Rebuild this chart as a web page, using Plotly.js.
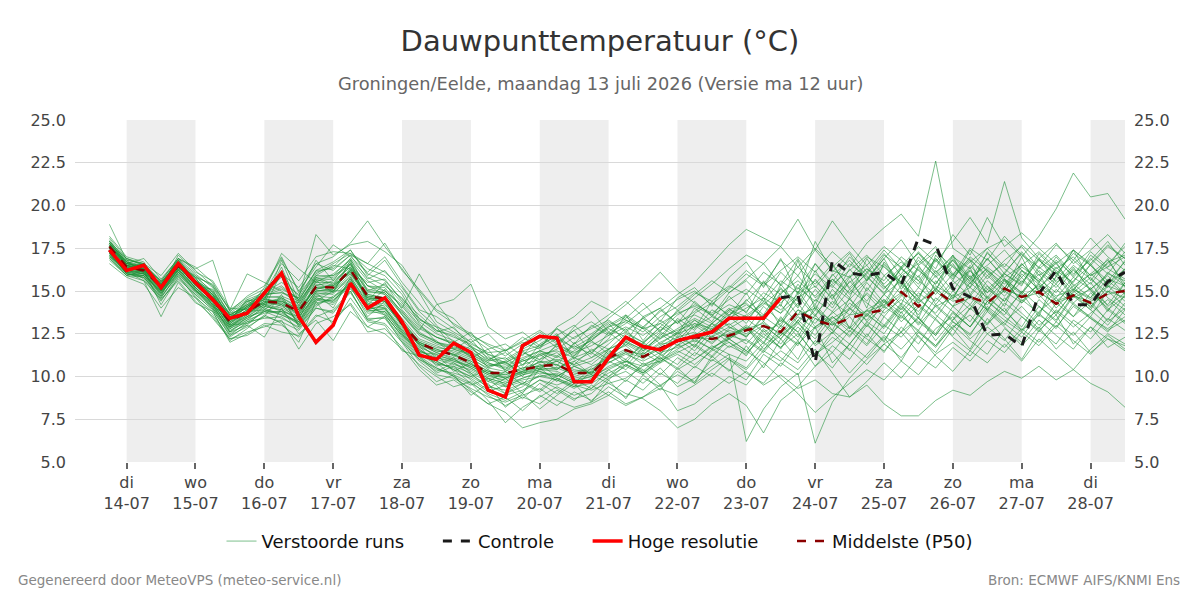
<!DOCTYPE html>
<html>
<head>
<meta charset="utf-8">
<script src="https://cdn.plot.ly/plotly-3.0.1.min.js"></script>
<style>html,body{margin:0;padding:0;background:#fff}#chart{width:1200px;height:600px}</style>
</head>
<body>
<div id="chart"></div>
<script>
// Time axis: 6-hourly steps starting 13-07-2026 18:00 UTC
const startUTC = Date.UTC(2026, 6, 13, 18);
const stepHours = 6;

// Tick days (midnights) and labels
const tickDates = ['2026-07-14','2026-07-15','2026-07-16','2026-07-17','2026-07-18','2026-07-19','2026-07-20','2026-07-21','2026-07-22','2026-07-23','2026-07-24','2026-07-25','2026-07-26','2026-07-27','2026-07-28'];
const tickDays = ['di','wo','do','vr','za','zo','ma','di','wo','do','vr','za','zo','ma','di'];
const tickDM = ['14-07','15-07','16-07','17-07','18-07','19-07','20-07','21-07','22-07','23-07','24-07','25-07','26-07','27-07','28-07'];
const shadedDays = ['2026-07-14','2026-07-16','2026-07-18','2026-07-20','2026-07-22','2026-07-24','2026-07-26','2026-07-28'];

// Hoge resolutie (13-07 18:00 .. 23-07 12:00)
const hres = [17.4,16.2,16.5,15.2,16.6,15.5,14.5,13.4,13.7,14.9,16.05,13.5,12.0,13.0,15.45,14.0,14.6,13.2,11.25,11.0,11.95,11.4,9.2,8.8,11.8,12.35,12.25,9.7,9.7,11.1,12.3,11.75,11.55,12.1,12.35,12.6,13.4,13.4,13.4,14.6];

// Controle (visible from 23-07 12:00, coincides with HRES before)
const controlStartIndex = 39;
const control = [14.6,14.75,10.8,16.8,16.05,15.9,16.1,15.35,18.1,17.7,15.15,14.65,12.4,12.5,11.75,14.85,16.2,14.2,14.2,15.55,16.1];

// Middelste (P50)
const p50 = [17.6,16.4,16.2,15.25,16.5,15.45,14.5,13.2,13.8,14.4,14.3,13.8,15.25,15.2,16.25,14.7,14.55,13.1,11.95,11.55,11.25,10.8,10.2,10.2,10.4,10.6,10.7,10.2,10.2,11.1,11.55,11.15,11.65,12.1,12.3,12.2,12.4,12.7,12.95,12.6,13.8,13.3,13.0,13.4,13.7,13.9,14.95,14.1,15.05,14.3,14.65,14.3,15.15,14.65,14.95,14.25,14.75,14.3,14.85,15.0];

// Verstoorde runs (estimated members)
const m01 = [18.9,16.8,16.6,15.6,16.9,16.0,15.2,13.6,14.2,14.9,15.3,14.5,16.0,16.6,17.2,16.3,15.9, 14.8,13.1,12.0,11.8,11.2,10.6,10.9,11.5,11.8,12.4,11.6,12.1,13.0,13.6,12.9,13.8,14.5,15.0,14.2,15.1, 16.0,15.3,16.2,17.0,16.1,17.3,16.4,17.8,18.7,19.5,18.2,22.6,17.5,16.8,15.9,16.6,15.8,16.9,15.5,16.2,15.4,16.7,17.1];
const m02 = [17.2,16.0,15.9,14.6,16.1,15.0,14.0,12.6,13.3,13.7,13.8,13.0,14.2,14.6,15.4,13.9,13.6, 12.4,11.2,10.5,10.1,9.6,9.0,8.6,9.1,9.8,9.3,8.7,9.0,9.9,10.3,9.6,10.5,9.4,9.9,10.6,11.3, 6.2,8.1,9.4,10.2,6.1,8.5,9.9,11.0,11.9,12.6,11.4,12.8,13.5,12.2,13.1,14.0,12.7,13.6,12.9,14.1,13.4,12.8,13.5];
const m03 = [17.9,16.9,16.5,15.4,16.8,15.9,15.3,13.9,14.6,15.1,16.0,15.2,16.6,17.0,17.8,19.1,17.6, 16.3,14.9,13.2,12.6,12.0,11.3,11.0,11.6,12.1,12.8,12.2,12.9,13.6,14.4,13.5,14.0,13.1,13.8,14.6,15.3, 14.8,16.1,15.4,16.9,15.2,16.4,17.3,16.1,17.4,16.3,17.2,16.0,17.1,15.8,16.5,17.4,16.2,15.6,16.8,15.9,17.3,16.4,17.8];
const m04 = [17.0,16.1,15.6,13.5,15.5,14.3,13.8,12.0,12.5,13.1,13.0,12.3,13.5,13.9,15.0,13.3,13.1, 12.0,11.0,10.3,10.8,10.1,9.5,9.0,9.4,10.1,9.8,9.3,9.9,10.6,11.0,10.2,10.9,11.4,11.9,11.2,12.3, 12.9,11.6,12.4,13.2,11.8,12.6,13.5,12.3,13.9,14.8,13.6,15.2,14.1,15.5,14.6,13.8,14.9,16.0,14.4,15.3,14.0,15.6,14.8];
const m05 = [17.5,16.6,16.4,15.3,16.6,15.7,14.9,13.5,14.0,14.7,15.1,14.6,18.3,17.1,17.7,17.9,17.3, 16.5,15.0,13.8,13.1,12.5,11.8,11.2,11.9,12.6,11.9,11.3,12.2,12.8,12.3,11.9,12.9,13.8,14.6,15.4,16.3, 17.1,16.6,17.6,19.2,17.4,16.2,15.8,17.0,16.4,15.5,16.8,15.9,14.6,16.2,15.1,16.0,17.3,16.1,15.2,16.4,15.0,14.2,15.5];
const m06 = [17.3,16.3,16.0,14.9,16.2,15.1,14.2,12.9,13.4,14.0,13.6,13.2,14.6,14.3,15.6,14.0,13.9, 12.6,11.4,10.8,10.0,9.2,8.4,7.9,7.0,7.3,7.5,8.1,8.4,8.9,8.3,8.8,9.5,10.1,9.6,10.4,11.1, 10.5,11.8,12.6,11.9,12.9,13.5,12.8,13.9,14.5,13.2,14.2,13.4,14.8,13.9,15.1,14.4,15.6,14.8,13.7,14.9,15.8,14.6,13.9];
const m07 = [17.8,16.7,16.2,15.5,16.7,15.6,14.7,13.4,14.3,15.0,17.2,16.3,15.5,16.0,16.8,15.6,15.0, 14.2,13.0,12.3,11.9,11.5,10.8,10.4,10.9,11.2,11.6,12.3,12.8,13.3,12.6,13.4,12.7,13.6,14.2,13.7,14.5, 15.1,14.4,15.6,14.9,16.0,15.2,16.6,15.8,14.9,16.3,15.4,16.9,15.8,16.7,17.5,16.4,17.7,16.8,16.0,17.2,16.5,17.6,16.9];
const m08 = [17.7,16.5,16.3,15.1,16.4,15.4,14.4,13.1,13.7,14.3,14.6,14.0,15.3,15.6,16.4,15.1,14.9, 13.8,12.7,14.2,14.5,15.4,12.9,12.2,12.6,11.8,12.4,13.0,12.1,12.9,13.5,12.8,11.9,12.6,13.3,12.5,13.1, 12.3,13.6,14.2,13.1,14.5,13.8,15.1,14.3,13.5,14.7,15.9,14.2,15.4,16.2,14.9,15.7,14.3,15.2,16.1,14.7,15.5,14.1,14.9];
const m09 = [17.1,16.2,16.1,14.8,16.3,15.2,14.3,12.8,13.3,14.1,13.9,13.4,14.9,14.8,15.9,14.2,14.3, 12.9,11.6,10.9,10.4,9.6,8.6,7.3,8.2,8.8,9.4,8.9,9.3,10.0,10.6,10.1,10.8,11.3,10.7,11.5,12.0, 11.4,12.3,11.7,12.5,11.3,12.0,12.9,12.2,11.5,12.6,13.4,12.4,13.7,12.9,14.1,13.3,12.6,13.8,14.6,13.5,14.4,13.2,14.0];
const m10 = [17.4,16.4,16.1,15.2,16.5,15.5,14.6,13.3,13.9,14.5,14.4,13.9,15.1,15.4,16.0,14.8,14.6, 13.4,12.2,11.8,11.4,11.0,10.5,10.3,10.7,11.0,11.4,10.6,10.9,11.6,12.1,11.5,12.2,12.8,13.4,12.9,13.6, 14.2,13.5,14.9,15.6,14.7,15.9,16.8,15.6,17.1,16.4,17.6,16.7,17.9,19.3,17.8,21.4,18.1,16.9,17.8,16.6,17.4,18.3,17.2];
const m11 = [17.6,16.3,16.2,15.4,16.6,15.3,14.5,13.0,13.6,14.4,14.1,13.6,15.0,15.1,16.2,14.5,14.4, 13.0,11.8,11.2,11.0,10.5,10.0,9.8,10.2,10.5,10.9,10.3,10.4,11.2,11.9,11.3,12.0,12.5,12.9,13.5,13.0, 13.6,14.3,13.7,14.6,15.3,14.2,15.8,16.5,15.2,16.0,17.3,16.1,17.0,16.3,17.5,18.0,17.0,18.2,19.8,21.9,20.5,20.7,19.2];
const m12 = [17.0,15.9,15.8,14.7,15.9,14.8,13.9,12.4,12.9,13.5,13.2,12.7,14.0,13.8,14.9,13.4,13.4, 12.1,10.9,10.1,9.9,9.3,8.8,8.5,8.9,9.3,8.6,8.2,8.5,9.1,8.4,8.8,9.3,8.9,9.5,10.2,9.6, 10.3,9.5,10.1,9.3,9.8,9.0,8.8,9.5,8.4,7.7,7.7,8.6,9.2,8.9,9.7,10.3,9.9,10.6,9.8,10.4,9.6,9.1,8.2];
const m13 = [17.5,16.5,16.3,15.0,16.4,15.6,14.8,13.3,14.1,14.6,14.2,13.7,15.4,15.3,16.1,14.6,14.4, 13.2,12.1,11.7,11.5,11.1,10.4,9.9,10.3,10.9,10.7,10.0,10.3,11.4,11.8,11.0,11.8,12.3,12.6,11.9,12.8, 13.4,12.6,13.1,14.3,12.9,13.7,14.5,13.6,14.8,15.6,14.3,15.3,14.7,15.9,14.5,15.6,14.4,15.4,14.0,15.1,14.6,15.7,15.3];
const m14 = [17.2,16.1,15.9,15.0,16.2,15.0,14.1,12.7,13.2,13.8,13.4,12.9,14.3,14.5,15.2,13.7,13.8, 12.5,11.3,10.7,10.6,10.2,9.7,9.4,9.9,10.2,10.1,9.6,9.8,10.4,10.9,10.4,9.5,8.0,8.4,9.2,10.0, 9.5,10.7,11.5,10.8,12.1,11.4,12.7,11.8,13.0,12.3,13.5,12.1,13.3,14.2,13.0,14.3,13.5,12.6,13.9,13.1,12.2,13.4,12.7];
const m15 = [18.1,16.9,16.5,15.6,16.9,16.3,16.8,13.8,14.5,14.9,15.5,14.8,16.1,16.4,17.4,16.0,15.6, 14.5,13.6,12.7,12.3,11.9,11.4,11.5,12.1,12.7,12.0,12.7,13.2,12.5,13.1,13.9,14.6,13.9,14.8,15.6,14.9, 15.7,16.6,15.3,16.4,17.5,16.5,15.2,16.3,15.6,17.0,16.2,15.4,16.8,15.7,14.9,16.1,17.2,15.9,16.6,15.3,16.0,15.2,16.3];
const m16 = [17.6,16.6,16.3,15.3,16.5,15.8,15.4,13.9,16.0,15.5,15.0,14.2,15.6,15.7,16.6,15.3,15.2, 14.0,16.0,14.3,13.0,12.4,11.9,11.5,12.0,11.6,12.9,13.5,14.4,13.9,13.3,12.8,13.1,12.4,13.7,14.3,13.6, 14.4,15.5,14.8,15.9,14.6,15.4,16.2,17.1,15.9,16.7,15.8,17.3,16.4,15.6,16.9,15.8,16.5,17.3,16.3,17.0,15.9,16.6,17.6];
const m17 = [17.3,16.2,16.0,14.9,16.3,15.2,14.2,12.6,13.0,13.9,13.6,13.1,14.5,14.2,15.5,14.1,13.7, 12.3,11.1,10.4,10.2,9.9,9.2,8.9,9.2,9.8,9.5,9.9,10.1,9.6,9.0,8.7,8.0,7.0,7.5,8.4,9.0, 8.3,6.7,8.6,9.4,10.6,11.4,10.2,11.3,12.4,11.6,12.7,11.8,12.9,13.6,12.5,13.2,14.1,13.0,13.8,12.9,13.7,14.5,13.6];
const m18 = [17.8,16.6,16.4,15.2,16.6,15.5,14.6,13.5,14.0,14.6,14.7,14.3,15.8,15.9,16.5,15.3,14.8, 13.6,12.4,11.9,11.6,11.3,10.7,10.6,11.0,11.5,11.2,11.9,12.5,13.2,12.7,13.4,14.0,14.8,15.5,16.6,17.7, 18.6,18.1,17.6,16.4,15.4,16.6,15.1,16.0,17.2,15.9,16.6,17.6,16.0,16.9,15.7,16.8,17.6,16.3,17.1,16.0,16.8,17.9,16.5];
const m19 = [17.4,16.3,16.2,15.1,16.4,15.4,14.5,13.0,13.5,14.2,14.0,13.5,14.8,15.0,15.8,14.4,14.1, 12.8,11.5,11.0,10.7,10.4,9.9,9.6,9.9,10.3,9.9,9.5,9.2,9.6,9.9,10.6,11.2,11.8,12.4,13.1,12.6, 11.9,13.0,12.2,13.3,14.2,13.1,12.4,13.6,12.9,14.2,13.0,14.1,13.2,12.5,13.8,12.9,11.8,12.9,11.6,12.6,11.4,12.2,11.8];
const m20 = [17.9,16.8,16.6,15.5,16.7,15.8,15.0,13.7,14.4,14.8,14.9,14.6,16.2,16.3,17.1,16.6,16.1, 15.2,13.8,12.9,12.5,11.8,11.1,10.8,11.3,11.7,12.2,11.7,12.3,12.9,13.2,12.6,13.5,14.1,14.9,14.4,15.2, 16.2,15.4,16.8,15.9,17.4,19.1,17.7,16.5,17.6,16.8,15.6,16.9,15.7,17.0,16.2,15.4,16.6,15.5,16.7,15.1,16.0,16.8,15.4];
const m21 = [17.6,16.4,16.3,15.2,16.5,15.3,14.4,13.1,13.9,14.4,14.5,13.9,15.2,15.0,16.3,14.7,14.6, 13.3,12.0,11.6,11.2,10.9,10.3,10.1,10.5,10.6,10.9,10.4,10.2,11.0,11.5,11.3,11.9,12.0,12.5,12.3,12.9, 12.5,13.2,12.4,13.6,14.0,13.2,13.9,14.8,13.7,14.5,13.8,15.0,14.1,14.6,13.9,15.1,14.7,15.3,14.4,14.8,14.1,15.0,14.6];
const m22 = [17.5,16.2,16.0,15.1,16.3,15.2,14.3,12.9,13.6,14.2,13.8,13.5,14.7,14.9,15.7,14.3,14.0, 12.7,11.7,11.3,10.9,10.6,10.1,9.7,10.1,10.4,10.3,9.8,10.0,10.8,11.3,10.9,11.4,11.7,12.1,11.6,12.4, 12.1,11.4,12.6,11.8,13.4,12.7,11.9,13.2,14.1,13.4,14.6,13.6,12.8,14.0,15.3,14.1,16.2,15.0,14.2,15.6,16.5,15.4,16.3];
const m23 = [17.7,16.5,16.1,15.0,16.6,15.4,14.6,13.2,13.8,14.3,14.4,14.0,15.1,15.3,16.1,14.6,14.5, 13.1,12.0,11.5,11.3,10.7,10.2,10.0,10.3,10.7,10.5,10.9,11.4,10.8,11.4,10.7,11.1,10.4,11.0,11.8,11.3, 10.9,12.0,11.1,10.4,11.6,10.2,8.8,9.7,10.8,9.9,11.2,10.5,11.7,10.9,12.1,11.4,12.6,11.8,13.0,12.1,11.3,12.4,11.6];
const m24 = [17.3,16.4,16.2,15.3,16.5,15.4,14.5,13.3,13.9,14.5,14.4,13.8,15.2,15.2,16.3,14.8,14.6, 13.2,12.0,11.6,11.3,10.9,10.3,10.2,10.5,10.8,11.0,10.7,11.1,11.6,12.0,11.6,12.3,12.7,13.1,12.8,13.4, 14.0,14.6,13.9,14.8,15.6,14.6,15.5,16.3,15.4,16.4,17.2,16.3,18.3,17.1,19.3,17.6,18.4,17.5,16.6,17.4,16.6,17.7,16.9];
const m25 = [17.1,16.0,15.9,14.9,16.1,15.1,14.1,12.8,13.4,13.9,13.7,13.2,14.6,14.4,15.5,13.9,13.8, 12.5,11.3,10.8,10.5,10.0,9.4,9.2,9.6,10.0,9.8,9.4,9.6,10.2,10.7,10.2,11.0,11.6,12.2,11.6,12.3, 13.0,12.3,13.3,12.6,11.2,12.3,11.6,10.7,11.9,11.1,12.4,11.2,10.3,11.5,10.8,11.9,10.9,12.2,11.3,10.4,11.6,12.5,11.9];
const m26 = [17.7,16.6,16.4,15.4,16.8,15.7,14.8,13.6,14.2,14.8,14.9,14.4,15.7,15.8,16.7,15.3,15.0, 14.1,12.9,12.3,12.0,11.6,11.0,10.7,11.1,11.5,11.9,11.4,11.8,12.4,12.9,12.4,13.1,13.7,14.1,13.6,14.2, 13.8,14.9,14.3,15.2,14.4,15.7,14.9,16.1,15.1,16.3,15.6,14.8,16.0,15.2,16.4,15.6,14.8,16.2,15.4,16.5,15.7,14.9,16.1];
const m27 = [17.5,16.3,16.1,15.2,16.4,15.5,14.7,13.2,13.7,14.3,14.2,13.7,15.0,15.1,16.2,14.6,14.5, 13.0,11.9,11.4,11.0,10.6,10.1,9.9,10.3,10.5,10.4,11.2,12.3,13.4,14.2,15.1,16.1,15.0,14.3,13.6,12.9, 12.3,13.5,12.8,13.9,13.1,14.4,13.6,14.9,14.0,15.3,14.5,13.7,15.0,14.2,15.6,14.7,15.8,14.6,15.4,14.3,15.2,13.9,14.7];
const m28 = [17.2,16.1,16.0,15.0,16.2,15.2,14.3,12.9,13.5,14.1,13.9,13.3,14.7,14.6,15.7,14.1,14.0, 12.7,11.5,11.1,10.8,10.3,9.8,9.5,9.8,10.0,10.2,9.7,10.0,10.5,10.9,10.6,10.9,11.5,11.0,11.7,12.2, 11.5,10.8,9.9,9.0,7.9,8.8,9.6,10.4,9.8,10.9,10.1,11.3,12.0,11.2,12.5,11.7,12.8,12.0,13.2,12.4,13.5,12.7,13.3];
const m29 = [17.8,16.7,16.4,15.3,16.6,15.6,14.8,13.4,14.1,14.7,14.6,14.1,15.5,15.5,16.4,15.0,14.8, 13.7,12.5,12.0,11.7,11.3,10.8,10.5,10.9,11.3,11.5,11.1,11.5,12.1,12.6,12.0,12.7,13.2,13.6,13.1,13.9, 13.5,14.2,15.1,14.4,16.6,15.3,14.5,15.6,16.6,15.4,14.7,15.9,16.8,15.5,16.3,15.2,16.4,15.7,14.9,16.3,15.1,15.9,14.8];
const m30 = [17.6,16.5,16.2,15.2,16.5,15.4,14.5,13.1,13.8,14.4,14.3,13.8,15.3,15.2,16.2,14.7,14.5, 13.1,11.9,11.5,11.3,10.8,10.2,10.1,10.4,10.6,10.7,10.2,10.2,11.1,11.6,11.2,11.7,12.1,12.3,12.2,12.5, 12.8,13.1,12.5,13.9,13.4,13.0,13.6,13.8,14.2,14.9,14.3,15.1,14.4,14.7,14.2,15.2,14.6,14.9,14.3,14.7,14.4,14.8,15.1];
const m31 = [18.2,17.0,16.7,15.1,17.1,16.1,15.6,14.0,13.9,15.2,16.9,15.0,16.4,17.7,17.0,16.1,17.0, 15.5,14.3,13.0,12.0,12.6,11.2,10.4,11.5,10.8,11.9,12.7,11.4,12.2,13.6,12.1,13.3,12.5,14.0,13.2,14.7, 13.7,15.6,14.1,16.8,13.9,15.7,14.6,16.9,15.3,14.2,16.5,15.0,17.1,14.8,16.2,15.1,17.0,14.9,15.8,17.4,15.6,16.9,15.2];
const m32 = [16.8,15.9,16.2,14.2,15.8,14.7,13.6,12.3,13.0,12.3,14.0,12.5,13.3,12.1,13.8,12.9,13.5, 12.0,10.6,9.7,10.1,8.9,9.6,8.2,9.0,8.1,8.9,9.6,8.5,9.8,8.7,10.1,9.2,10.5,9.6,11.2,10.3, 11.8,10.5,12.2,11.0,12.9,10.8,11.9,13.1,12.0,13.8,12.3,11.4,12.8,11.6,13.4,12.2,11.0,12.7,13.6,11.9,12.9,11.7,12.3];
const m33 = [17.9,16.6,16.9,15.7,16.9,16.4,15.5,13.8,14.7,15.3,17.0,14.9,16.6,16.2,17.1,15.7,16.2, 15.0,13.4,12.6,12.9,11.7,10.9,11.6,10.6,11.9,12.5,11.0,12.4,13.1,12.0,13.5,12.6,13.9,12.8,14.4,13.5, 14.9,13.2,15.4,14.1,16.2,14.7,15.9,14.0,16.7,15.5,14.4,17.1,15.9,16.8,14.6,16.0,15.3,17.2,16.1,15.0,16.6,15.3,16.8];
const m34 = [16.6,15.8,15.4,14.0,15.2,14.6,13.4,12.2,12.6,12.9,13.3,11.6,13.1,13.5,14.2,12.6,12.8, 11.7,10.4,9.5,9.8,9.1,8.4,8.8,8.0,8.9,8.3,9.1,8.6,9.4,8.8,9.9,9.4,10.3,9.7,11.0,10.4, 9.8,11.3,10.6,12.0,11.2,12.6,11.5,13.0,12.1,13.6,12.6,11.8,13.2,12.4,14.0,13.1,12.3,13.7,12.8,14.3,13.4,12.6,13.9];
const m35 = [17.7,16.9,16.6,15.9,17.2,16.2,15.3,13.6,14.1,14.9,16.6,15.6,17.0,17.3,17.2,16.6,17.8, 16.2,15.1,13.9,13.4,12.3,11.6,11.9,11.2,12.4,11.7,12.9,13.8,12.6,13.4,14.3,13.2,14.6,15.2,14.1,15.8, 16.7,15.2,16.9,14.8,17.9,16.1,17.2,15.6,16.9,18.0,16.5,17.3,15.9,17.5,16.8,18.2,17.1,16.4,17.7,16.8,18.1,17.0,16.2];
const m36 = [17.3,16.0,15.8,14.6,16.0,14.9,14.0,12.5,13.1,13.5,14.8,12.9,14.1,14.7,15.3,13.5,14.4, 13.0,11.8,10.6,11.1,10.2,9.3,9.9,9.0,10.5,9.7,10.9,10.1,11.6,10.8,12.0,11.3,12.6,11.7,13.1,12.2, 12.8,11.9,13.5,12.3,14.1,12.7,14.6,13.2,12.5,14.0,13.1,14.6,13.8,12.9,14.4,13.6,15.0,14.1,13.3,14.8,13.9,15.3,14.4];
const m37 = [17.6,16.4,16.6,15.0,16.3,15.8,14.1,13.5,14.4,14.0,16.1,13.3,15.6,14.9,16.8,14.2,15.1, 13.6,12.5,12.1,11.2,11.8,10.5,10.9,10.0,11.3,10.6,12.0,11.1,11.9,12.8,11.5,12.4,13.3,12.0,13.1,14.0, 13.1,14.6,12.9,15.0,13.6,14.8,12.8,15.2,14.1,15.9,13.4,15.6,14.5,16.4,13.8,15.7,14.9,13.5,15.9,14.6,15.1,13.8,15.5];
const m38 = [17.0,16.3,15.7,14.4,15.9,14.6,13.8,12.1,12.8,13.6,13.1,12.0,14.4,13.0,14.6,13.2,13.0, 11.5,11.2,10.2,10.6,9.8,9.1,9.5,8.7,9.6,9.0,9.8,9.3,10.4,9.7,10.8,10.1,11.1,10.5,11.6,11.0, 10.4,11.5,10.9,12.1,10.6,11.8,11.0,12.5,11.4,12.9,11.9,13.4,12.3,11.5,12.9,12.1,13.5,12.7,11.9,13.3,12.6,13.9,13.1];
const m39 = [18.0,16.7,16.5,15.5,16.4,15.9,14.9,13.6,13.6,15.0,15.8,14.7,16.8,15.6,16.9,15.8,15.3, 14.6,13.3,12.9,11.6,12.2,11.0,11.4,10.7,11.5,11.1,11.8,11.3,12.6,11.8,12.9,12.2,13.4,12.7,13.9,13.3, 14.5,13.6,15.2,14.0,15.7,14.5,16.3,15.0,16.5,15.3,17.0,15.8,16.6,15.2,17.3,16.0,15.4,16.9,16.2,15.5,17.1,16.3,15.7];
const m40 = [17.1,16.1,16.0,14.9,16.0,15.0,14.4,13.0,13.1,13.8,14.2,13.2,14.9,14.0,15.8,13.8,14.0, 12.6,11.4,11.3,10.3,10.8,9.7,10.3,9.5,10.7,10.0,10.6,10.2,11.3,10.6,11.7,11.0,12.2,11.5,12.7,12.0, 11.2,12.7,11.6,13.3,12.4,13.8,12.9,11.9,13.5,12.6,14.1,13.3,12.4,14.0,13.1,14.6,13.7,12.8,14.3,13.5,14.9,14.0,13.2];
const m41 = [17.5,16.8,16.0,15.5,16.8,15.3,15.1,13.3,14.5,14.2,16.8,14.4,16.2,16.7,17.4,15.9,16.8, 15.3,13.9,13.5,12.8,12.0,12.5,11.5,12.3,11.7,12.8,11.9,13.0,12.4,13.3,12.8,13.9,13.1,14.4,13.5,14.9, 15.6,14.6,16.1,15.1,16.6,15.5,17.0,15.9,14.8,16.4,15.2,16.8,15.6,17.4,16.1,14.9,16.6,15.5,17.0,15.8,16.9,16.0,17.3];
const m42 = [16.9,15.9,15.6,14.5,15.6,14.4,13.5,12.2,12.4,13.0,12.6,12.4,13.6,13.2,14.3,12.9,12.5, 11.6,10.7,10.0,9.4,9.7,8.9,8.3,8.8,8.4,9.2,8.6,9.5,8.9,9.8,9.2,10.2,9.6,10.6,10.0,11.0, 10.2,9.6,10.8,10.1,11.4,10.5,11.9,11.1,12.3,10.9,12.6,11.7,13.0,12.1,11.3,12.8,12.0,13.3,12.4,11.6,12.9,12.2,11.5];
const m43 = [17.8,16.5,16.4,15.6,16.2,15.6,14.7,13.3,14.4,14.6,15.9,13.9,15.8,15.4,16.6,14.4,15.5, 13.9,12.8,12.3,11.9,11.1,11.6,10.3,11.0,10.4,11.2,10.7,11.6,11.0,12.0,11.4,12.5,11.8,13.0,12.3,13.5, 12.7,14.1,13.2,14.7,13.5,15.1,14.0,15.5,14.3,15.9,14.6,16.2,15.0,16.5,15.3,14.4,16.0,15.1,16.4,15.4,14.6,16.1,15.3];
const m44 = [17.4,16.2,16.1,14.7,16.6,15.1,14.0,12.8,13.8,13.9,14.6,13.0,14.4,15.0,15.1,14.2,13.6, 12.4,11.6,10.9,10.4,10.0,10.4,9.4,9.7,9.2,10.1,9.6,10.5,10.0,10.9,10.3,11.3,10.7,11.8,11.1,12.2, 11.5,12.8,11.9,13.1,12.2,13.5,12.6,13.9,13.0,14.3,13.4,12.5,14.1,13.2,14.7,13.8,12.9,14.5,13.6,15.0,14.2,13.3,14.8];
const m45 = [17.6,16.7,16.2,15.4,16.5,15.6,15.0,13.4,14.2,14.5,16.4,14.1,15.9,15.9,16.9,15.0,15.4, 14.3,13.2,12.5,12.1,11.4,10.9,11.1,10.4,11.4,10.9,11.5,12.1,11.3,12.2,11.7,12.6,12.1,13.1,12.5,13.8, 13.3,14.4,13.7,15.4,14.2,16.0,14.8,15.7,16.9,15.1,16.4,15.4,16.9,15.7,17.2,16.3,15.5,16.8,15.9,17.4,16.5,15.6,16.7];
const m46 = [17.2,16.0,15.9,14.8,16.1,15.0,14.2,12.6,13.5,13.8,13.8,13.1,14.5,14.4,15.6,13.9,14.2, 13.1,11.9,11.1,10.9,10.5,9.9,9.6,10.1,10.3,10.0,10.6,10.1,10.9,10.4,11.4,10.8,11.9,11.2,12.4,11.7, 12.2,11.5,13.0,12.1,13.6,12.5,14.0,12.9,14.4,13.5,12.7,14.2,13.3,14.8,13.9,13.0,14.5,13.7,15.1,14.2,13.5,15.0,14.1];
const m47 = [17.9,16.6,16.5,15.3,16.9,15.5,14.6,13.7,14.0,14.8,15.2,14.5,15.9,16.5,16.3,15.5,15.7, 14.4,13.4,12.7,12.4,11.7,11.3,10.8,11.4,11.0,11.8,11.2,12.0,11.6,12.5,12.0,12.9,12.3,13.3,12.7,13.9, 14.3,13.4,14.8,13.6,15.1,14.0,15.6,14.4,15.9,14.8,16.3,15.1,16.5,15.4,16.9,15.7,14.9,16.4,15.6,16.8,15.9,16.4,17.0];
const m48 = [16.9,16.0,15.8,14.5,15.7,14.8,13.9,12.4,13.2,13.4,13.5,12.8,14.0,13.7,15.0,13.3,13.5, 12.2,11.0,10.5,10.0,9.5,9.9,9.0,9.6,9.1,9.9,9.4,10.3,9.8,10.7,10.2,11.1,10.5,11.4,10.9,11.8, 11.3,12.5,11.7,12.9,11.9,13.2,12.3,13.7,12.8,14.1,13.2,12.4,13.8,12.9,14.4,13.5,12.7,14.1,13.2,14.7,13.9,13.0,14.3];
const m49 = [17.7,16.5,16.3,15.2,16.7,15.6,14.8,13.2,14.1,14.5,16.2,14.3,15.7,15.3,16.6,14.9,14.9, 13.8,12.6,12.0,11.6,11.2,10.6,10.8,10.2,10.9,10.4,11.1,10.7,11.5,11.0,11.9,11.3,12.3,11.8,12.8,12.2, 12.9,12.0,13.4,12.6,13.9,13.0,14.3,13.5,14.8,13.9,15.2,14.4,15.6,14.7,15.9,15.0,16.2,15.4,14.6,15.8,15.1,16.0,15.6];
const m50 = [17.4,16.3,16.2,15.1,16.4,15.4,14.5,13.0,13.7,14.2,14.3,13.6,15.0,15.0,16.0,14.5,14.4, 13.0,11.9,11.4,11.1,10.7,10.2,9.9,10.2,10.4,10.5,10.1,10.6,11.0,11.4,11.1,11.6,12.1,12.4,12.0,12.7, 12.4,13.0,12.2,13.5,12.8,13.4,14.0,13.3,14.5,13.7,14.9,14.1,14.6,15.2,14.4,15.0,14.3,15.5,14.7,15.1,14.5,15.3,14.9];

const members = [m01,m02,m03,m04,m05,m06,m07,m08,m09,m10,m11,m12,m13,m14,m15,m16,m17,m18,m19,m20,m21,m22,m23,m24,m25,m26,m27,m28,m29,m30,m31,m32,m33,m34,m35,m36,m37,m38,m39,m40,m41,m42,m43,m44,m45,m46,m47,m48,m49,m50];

function timeAt(i) {
  return new Date(startUTC + i * stepHours * 3600e3).toISOString().slice(0, 16).replace('T', ' ');
}
const times = p50.map((_, i) => timeAt(i));
const hresTimes = hres.map((_, i) => timeAt(i));
const controlTimes = control.map((_, i) => timeAt(i + controlStartIndex));

const FONT = 'DejaVu Sans, Verdana, sans-serif';
const PAD = '\u00a0\u00a0\u00a0\u00a0\u00a0';
const traces = [];
members.forEach((m, k) => {
  traces.push({
    x: times, y: m, type: 'scatter', mode: 'lines',
    name: 'Verstoorde runs' + PAD, legendgroup: 'ens', showlegend: k === 0, legendrank: 1,
    line: {color: 'rgba(30,145,55,0.58)', width: 1}, hoverinfo: 'skip'
  });
});
traces.push({x: hresTimes, y: hres, type: 'scatter', mode: 'lines', name: 'Controle-basis', showlegend: false, hoverinfo: 'skip', line: {color: '#1a1a1a', width: 3, dash: 'dash'}});
traces.push({x: controlTimes, y: control, type: 'scatter', mode: 'lines', name: 'Controle' + PAD, legendrank: 2, line: {color: '#1a1a1a', width: 3, dash: 'dash'}});
traces.push({x: times, y: p50, type: 'scatter', mode: 'lines', name: 'Middelste (P50)', legendrank: 4, line: {color: '#8b0000', width: 2.5, dash: 'dash'}});
traces.push({x: hresTimes, y: hres, type: 'scatter', mode: 'lines', name: 'Hoge resolutie' + PAD, legendrank: 3, line: {color: '#ff0000', width: 3.5}});
traces.push({x: times, y: p50, type: 'scatter', mode: 'lines', yaxis: 'y2', showlegend: false, hoverinfo: 'skip', opacity: 0, line: {width: 0}});

function nextDay(d) {
  const t = new Date(d + 'T00:00:00Z'); t.setUTCDate(t.getUTCDate() + 1);
  return t.toISOString().slice(0, 10);
}
const xEnd = '2026-07-28 12:00';
const shapes = shadedDays.map(d => ({
  type: 'rect', xref: 'x', yref: 'paper', x0: d, x1: (nextDay(d) > xEnd.slice(0,10) ? xEnd : nextDay(d)), y0: 0, y1: 1,
  fillcolor: '#eeeeee', line: {width: 0}, layer: 'below'
}));

const yAxisCommon = {
  range: [5, 25], dtick: 2.5, tick0: 5, tickformat: '.1f', zeroline: false, showline: false,
  tickfont: {family: FONT, size: 16, color: '#444'}, fixedrange: true, ticklabelstandoff: 8
};

const layout = {
  width: 1200, height: 600,
  margin: {l: 75, r: 75, t: 120, b: 138},
  paper_bgcolor: '#ffffff', plot_bgcolor: '#ffffff',
  font: {family: FONT, color: '#333'},
  title: {text: 'Dauwpunttemperatuur (°C)', font: {family: FONT, size: 29, color: '#333'}, x: 0.5, xanchor: 'center', y: 1 - 41/600, yanchor: 'middle', yref: 'container'},
  xaxis: {
    type: 'date', range: ['2026-07-13 06:00', xEnd],
    tickvals: tickDates, ticktext: tickDates.map((_, i) => tickDays[i] + '<br>' + tickDM[i]),
    ticks: 'outside', ticklen: 6, tickcolor: '#666', tickwidth: 2,
    showgrid: false, zeroline: false, showline: false,
    tickfont: {family: FONT, size: 16, color: '#444'}
  },
  yaxis: Object.assign({}, yAxisCommon, {showgrid: true, gridcolor: '#d9d9d9', gridwidth: 1}),
  yaxis2: Object.assign({}, yAxisCommon, {overlaying: 'y', side: 'right', showgrid: false}),
  shapes: shapes,
  showlegend: true,
  legend: {orientation: 'h', x: 0.5, xanchor: 'center', y: -0.178, yanchor: 'top', font: {family: FONT, size: 18, color: '#111'}, itemwidth: 30, traceorder: 'normal'},
  annotations: [
    {text: 'Groningen/Eelde, maandag 13 juli 2026 (Versie ma 12 uur)', xref: 'paper', yref: 'paper', x: 0.5, y: (462 - 83) / 342, xanchor: 'center', yanchor: 'middle', showarrow: false, font: {family: FONT, size: 17.8, color: '#666'}},
    {text: 'Gegenereerd door MeteoVPS (meteo-service.nl)', xref: 'paper', yref: 'paper', x: -59/1050, y: (462 - 580) / 342, xanchor: 'left', yanchor: 'middle', showarrow: false, font: {family: FONT, size: 13.5, color: '#888'}},
    {text: 'Bron: ECMWF AIFS/KNMI Ens', xref: 'paper', yref: 'paper', x: 1 + 57/1050, y: (462 - 580) / 342, xanchor: 'right', yanchor: 'middle', showarrow: false, font: {family: FONT, size: 13.5, color: '#888'}}
  ]
};

Plotly.newPlot('chart', traces, layout, {displayModeBar: false, staticPlot: true});
</script>
</body>
</html>
